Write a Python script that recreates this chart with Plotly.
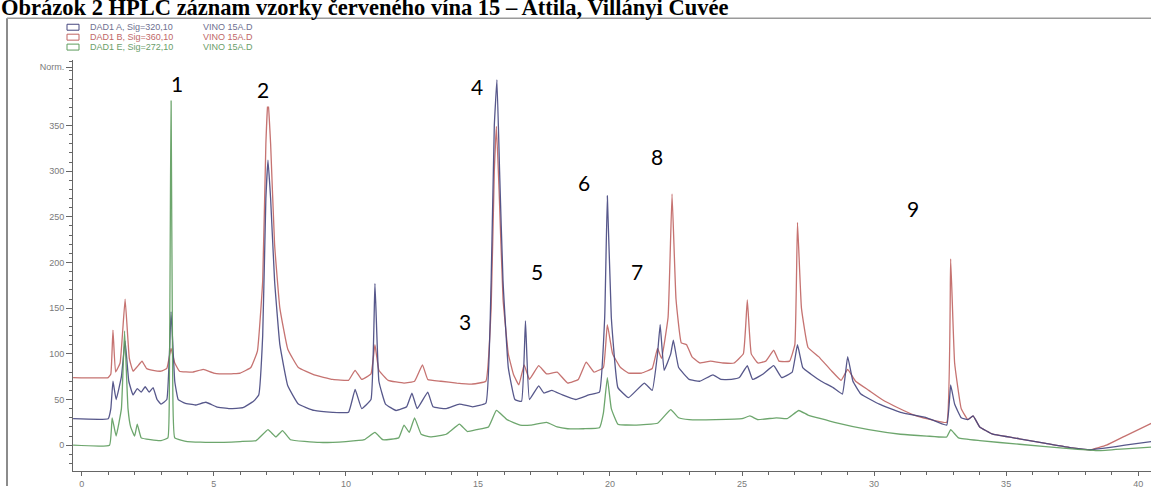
import plotly.graph_objects as go

# ---------------- data (retention time [min], signal [Norm.]) ----------------
red_t = [-0.33, 1.00, 1.10, 1.18, 1.28, 1.45, 1.64, 1.80, 1.94, 2.10, 2.28, 2.45, 2.70, 3.00, 3.22,
         3.38, 3.52, 3.70, 4.20, 4.60, 5.00, 5.50, 6.00, 6.40, 6.65, 6.85, 6.97, 7.05, 7.15, 7.30,
         7.50, 7.80, 8.20, 8.80, 9.50, 10.10, 10.35, 10.60, 10.95, 11.10, 11.25, 11.60, 12.20, 12.60,
         12.90, 13.10, 13.60, 14.20, 14.80, 15.30, 15.50, 15.62, 15.70, 15.80, 15.95, 16.15, 16.35,
         16.55, 16.75, 16.95, 17.30, 17.60, 18.00, 18.40, 18.80, 19.10, 19.40, 19.75, 19.90, 20.10,
         20.40, 20.70, 21.20, 21.60, 21.80, 21.95, 22.20, 22.35, 22.50, 22.70, 22.90, 23.10, 23.40,
         23.80, 24.30, 24.70, 25.05, 25.20, 25.35, 25.60, 25.90, 26.20, 26.40, 26.80, 27.00, 27.10,
         27.25, 27.50, 27.90, 28.40, 28.75, 29.00, 29.30, 29.80, 30.30, 30.90, 31.60, 32.30, 32.75,
         32.90, 33.05, 33.30, 33.55, 33.75, 34.00, 34.50, 35.50, 36.50, 37.50, 38.20, 38.80, 39.50,
         40.50]
red_y = [74, 74, 78, 126, 80, 90, 160, 95, 81, 86, 92, 84, 82, 81, 84,
         106, 90, 81, 80, 83, 79, 78, 79, 85, 103, 180, 330, 380, 330, 220,
         150, 105, 85, 77, 72, 71, 82, 72, 78, 110, 82, 71, 68, 70,
         88, 72, 70, 68, 67, 70, 150, 300, 349, 280, 160, 100, 77,
         66, 88, 72, 87, 78, 80, 68, 72, 91, 80, 85, 132, 100,
         85, 79, 79, 84, 106, 95, 140, 275, 160, 112, 110, 97, 90,
         92, 90, 90, 100, 159, 100, 90, 92, 104, 92, 92, 110, 244,
         150, 107, 97, 81, 71, 83, 70, 60, 50, 41, 32, 27, 25,
         204, 90, 40, 28, 32, 20, 12, 7, 2, -3, -5, 0, 10,
         24]

blue_t = [-0.33, 1.00, 1.10, 1.18, 1.30, 1.50, 1.64, 1.78, 1.94, 2.10, 2.25, 2.40, 2.55, 2.70, 2.85,
          3.00, 3.22, 3.38, 3.52, 3.65, 3.90, 4.30, 4.70, 5.10, 5.60, 6.10, 6.50, 6.70, 6.85, 6.97,
          7.05, 7.15, 7.30, 7.50, 7.80, 8.20, 8.80, 9.50, 10.10, 10.35, 10.60, 10.95, 11.10, 11.25,
          11.50, 11.90, 12.30, 12.50, 12.70, 13.10, 13.30, 13.80, 14.30, 14.80, 15.30, 15.50, 15.62,
          15.72, 15.82, 15.95, 16.15, 16.40, 16.65, 16.80, 16.95, 17.30, 17.50, 17.80, 18.20, 18.70,
          19.20, 19.60, 19.80, 19.90, 20.05, 20.30, 20.70, 21.30, 21.60, 21.80, 21.90, 22.05, 22.30,
          22.40, 22.60, 23.00, 23.40, 23.90, 24.20, 24.60, 24.90, 25.20, 25.40, 25.80, 26.20, 26.50,
          26.90, 27.10, 27.30, 27.60, 28.00, 28.45, 28.80, 29.00, 29.20, 29.50, 30.20, 31.00, 32.00,
          32.75, 32.90, 33.05, 33.30, 33.55, 33.75, 34.00, 34.50, 35.50, 36.50, 37.50, 38.20, 38.80,
          39.50, 40.50]
blue_y = [29, 29, 40, 70, 50, 75, 114, 70, 55, 62, 58, 64, 58, 63, 50,
          45, 50, 146, 70, 50, 46, 44, 47, 42, 40, 41, 48, 55, 120, 270,
          312, 270, 180, 110, 65, 45, 38, 36, 36, 61, 40, 50, 177, 70,
          45, 38, 42, 57, 40, 58, 42, 40, 45, 42, 46, 180, 350,
          400, 300, 180, 85, 50, 48, 136, 50, 65, 57, 60, 55, 50,
          55, 58, 140, 273, 140, 63, 52, 68, 60, 100, 132, 82, 100,
          115, 85, 72, 70, 77, 72, 72, 74, 87, 72, 78, 87, 74,
          80, 110, 85, 78, 70, 63, 56, 97, 70, 56, 45, 36, 30,
          22, 66, 45, 30, 28, 32, 20, 12, 7, 2, -3, -5, -3,
          0, 4]

green_t = [-0.33, 1.05, 1.15, 1.30, 1.50, 1.62, 1.75, 1.85, 2.00, 2.10, 2.25, 2.60, 3.00, 3.26, 3.32,
           3.38, 3.44, 3.52, 4.00, 5.00, 6.00, 6.60, 7.05, 7.35, 7.60, 7.90, 9.00, 10.00, 10.70,
           11.10, 11.40, 12.00, 12.20, 12.40, 12.60, 12.85, 13.20, 13.80, 14.30, 14.60, 14.95, 15.40,
           15.70, 16.10, 16.60, 17.00, 17.60, 18.00, 18.40, 19.00, 19.60, 19.75, 19.90, 20.05, 20.30,
           21.00, 21.80, 22.30, 22.60, 23.00, 24.00, 25.00, 25.30, 25.60, 26.30, 26.70, 27.15, 27.50,
           28.50, 29.80, 31.00, 32.00, 32.75, 32.90, 33.20, 34.00, 35.50, 37.50, 38.50, 39.50, 40.50]
green_y = [0, 0, 30, 10, 40, 125, 40, 20, 10, 23, 8, 6, 5, 8, 80,
           390, 80, 8, 4, 3, 4, 5, 17, 9, 16, 6, 3, 4, 6,
           14, 6, 8, 22, 14, 30, 12, 9, 12, 23, 15, 17, 20,
           38, 28, 22, 22, 25, 20, 18, 18, 19, 35, 74, 40, 23,
           22, 24, 39, 30, 28, 28, 29, 32, 28, 30, 29, 38, 33,
           25, 17, 12, 10, 9, 17, 8, 5, 1, -4, -6, -4, -2]

series_names = ["DAD1 A, Sig=320,10", "DAD1 B, Sig=360,10", "DAD1 E, Sig=272,10"]
file_name = "VINO 15A.D"
y_tick_values = [0, 50, 100, 150, 200, 250, 300, 350]
y_unit_label = "Norm."
x_tick_values = [0, 5, 10, 15, 20, 25, 30, 35, 40]
peak_ids = ["1", "2", "3", "4", "5", "6", "7", "8", "9"]
title_text = "Obrázok 2 HPLC záznam vzorky červeného vína 15 – Attila, Villányi Cuvée"

# ---------------- layout geometry (pixels) ----------------
W, H = 1151, 489
ML, MR, MT, MB = 73, 0, 60, 15
PW, PH = W - ML - MR, H - MT - MB


def fx(p):
    return (p - ML) / PW


def fy(p):
    return (H - MB - p) / PH


RED, BLUE, GREEN = "#c06462", "#45467f", "#5e9d5e"
AX = "#666666"
TICKFONT = dict(family="Liberation Sans, Arial, sans-serif", size=9, color="#7a7a7a")

fig = go.Figure()
for t, y, c, n in [(red_t, red_y, RED, series_names[1]),
                   (blue_t, blue_y, BLUE, series_names[0]),
                   (green_t, green_y, GREEN, series_names[2])]:
    fig.add_trace(go.Scatter(x=t, y=y, mode="lines", name=n, showlegend=False,
                             line=dict(color=c, width=1.3, shape="spline", smoothing=0.3),
                             opacity=0.9, hoverinfo="skip"))

annotations = []
shapes = []

# title (its top is clipped by the image edge, as in the reference)
annotations.append(dict(text="<b>" + title_text + "</b>", xref="paper", yref="paper",
                        x=fx(0), y=fy(21), xanchor="left", yanchor="bottom", showarrow=False,
                        borderpad=0,
                        font=dict(family="Liberation Serif, Times New Roman, serif", size=22.5,
                                  color="black")))

# frame lines
shapes.append(dict(type="line", xref="paper", yref="paper", x0=fx(7), x1=fx(7), y0=fy(18),
                   y1=fy(489), line=dict(color="#8c8c8c", width=2)))
shapes.append(dict(type="line", xref="paper", yref="paper", x0=fx(7), x1=fx(1151), y0=fy(18),
                   y1=fy(18), line=dict(color="#9a9a9a", width=1.5)))

# legend rows
leg_rows = [27, 37, 47]
leg_cols = [BLUE, RED, GREEN]
leg_text_cols = ["#6e7090", "#c06868", "#6a9e6a"]
for i in range(3):
    yy = leg_rows[i]
    shapes.append(dict(type="rect", xref="paper", yref="paper", x0=fx(67), x1=fx(79),
                       y0=fy(yy + 3), y1=fy(yy - 3), line=dict(color=leg_cols[i], width=1),
                       fillcolor="rgba(0,0,0,0)"))
    annotations.append(dict(text=series_names[i], xref="paper", yref="paper", x=fx(89),
                            y=fy(yy), xanchor="left", yanchor="middle", showarrow=False,
                            borderpad=0,
                            font=dict(family="Liberation Sans, Arial, sans-serif", size=9,
                                      color=leg_text_cols[i])))
    annotations.append(dict(text=file_name, xref="paper", yref="paper", x=fx(202),
                            y=fy(yy), xanchor="left", yanchor="middle", showarrow=False,
                            borderpad=0,
                            font=dict(family="Liberation Sans, Arial, sans-serif", size=9,
                                      color=leg_text_cols[i])))

# peak numbers (white boxes like pasted labels)
peak_pos = [(177, 84), (263, 90), (465, 323), (477, 87), (537, 273),
            (584, 183), (637, 273), (657, 157), (913, 210)]
for lab, (px_, py_) in zip(peak_ids, peak_pos):
    annotations.append(dict(text=lab, xref="paper", yref="paper", x=fx(px_), y=fy(py_),
                            xanchor="center", yanchor="middle", showarrow=False,
                            bgcolor="white", borderpad=4,
                            font=dict(family="Lato, Open Sans, sans-serif", size=21,
                                      color="black")))

fig.update_layout(
    width=W, height=H, autosize=False,
    margin=dict(l=ML, r=MR, t=MT, b=MB, pad=0),
    paper_bgcolor="white", plot_bgcolor="white",
    showlegend=False,
    annotations=annotations, shapes=shapes,
    xaxis=dict(range=[-0.333, 40.486], tickmode="array", tickvals=x_tick_values,
               ticks="outside", ticklen=4, tickcolor=AX, showline=True, linecolor=AX,
               linewidth=1, showgrid=False, zeroline=False, tickfont=TICKFONT,
               minor=dict(dtick=1, tick0=0, ticks="outside", ticklen=3, tickcolor=AX,
                          showgrid=False)),
    yaxis=dict(range=[-28.26, 421.7], tickmode="array",
               tickvals=y_tick_values + [414],
               ticktext=[str(v) for v in y_tick_values] + [y_unit_label],
               ticks="outside", ticklen=6, tickcolor=AX, showline=True, linecolor=AX,
               linewidth=1, showgrid=False, zeroline=False, tickfont=TICKFONT,
               minor=dict(dtick=10, tick0=0, ticks="outside", ticklen=3, tickcolor=AX,
                          showgrid=False)),
)

fig.write_html("out.html")
